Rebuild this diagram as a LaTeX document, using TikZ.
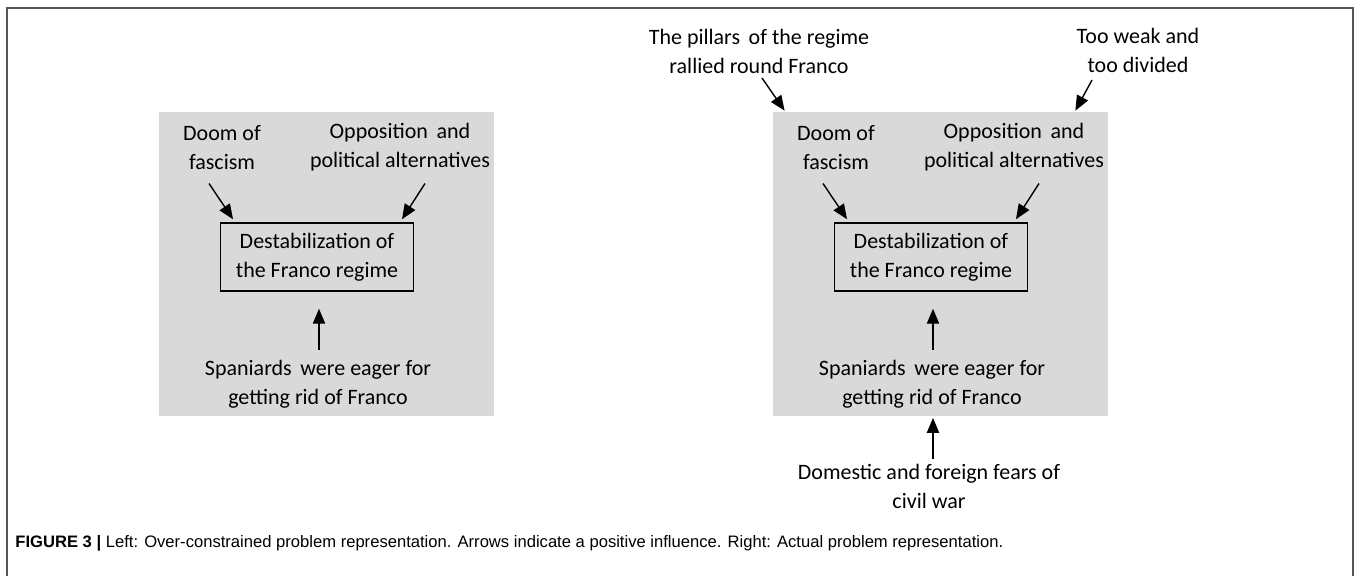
\documentclass[tikz,border=0pt]{standalone}
\usepackage{fontspec}
\setmainfont{Carlito}
\newfontfamily\capfont{Liberation Sans}
\usetikzlibrary{calc}
\usetikzlibrary{arrows}

\definecolor{panelgray}{RGB}{217,217,217}
\definecolor{framegray}{RGB}{85,85,85}

\tikzset{
  lbl/.style={align=center, inner sep=0, font=\fontsize{11}{14.5}\selectfont},
  panel/.style={fill=panelgray, inner sep=0, minimum width=167.5pt, minimum height=152pt},
  target/.style={draw, thick, inner sep=0, minimum width=96.5pt, minimum height=34pt, font=\fontsize{11}{14.5}\selectfont, align=center},
  arr/.style={black, line width=.7pt, ->, >=triangle 45}
}

\begin{document}
\begin{tikzpicture} [x=.5pt, y=-.5pt]
\useasboundingbox (0,0) rectangle (1357,575);
\draw[framegray, line width=1pt] (7,580)--(7,8)--(1353,8)--(1353,580);
\foreach \dx/\p  in  {0/L, 614/R} {
 \node[panel] (pan\p) at (326.5+\dx,264) {};
 \node[lbl] (doom\p) at (222+\dx,147.5) {Doom of\\fascism};
 \node[lbl] (opp\p) at (400+\dx,147.5) {Opposition\,\ and\\political alternatives};
 \node[target] (box\p) at (317+\dx,257) {Destabilization of\\the Franco regime};
 \node[lbl] (spain\p) at (318+\dx,384) {Spaniards\,\ were eager for\\getting rid of Franco};
 \draw[arr] ($(doom\p)+(-13,36)$) -- ($(box\p.north)+(-84,-3)$);
 \draw[arr] ($(opp\p)+(25,36)$) -- ($(box\p.north)+(85,-3)$);
 \draw[arr] ($(spain\p)+(1,-34)$) -- ($(box\p.south)+(2,17)$);
}
\node[lbl] (pillars) at (759,51) {The pillars\,\ of the regime\\rallied round Franco};
\node[lbl] (weak) at (1138,50) {Too weak and\\too divided};
\node[lbl] (fears) at (929,486.5) {Domestic and foreign fears of\\civil war};
\draw[arr] ($(pillars)+(3,27)$) -- ($(panR.north west)+(12,-1)$);
\draw[arr] ($(weak)+(-46,30)$) -- ($(panR.north east)+(-33,-1)$);
\draw[arr] ($(fears)+(4,-28)$) -- ($(spainR)+(1,34)$);
\node[anchor=west, inner sep=0, font=\capfont\fontsize{8.3}{10}\selectfont] (caption) at (15,543)
  {\textbf{FIGURE 3 |} Left: Over-constrained problem representation. Arrows indicate a positive influence. Right: Actual problem representation.};
\end{tikzpicture}
\end{document}
